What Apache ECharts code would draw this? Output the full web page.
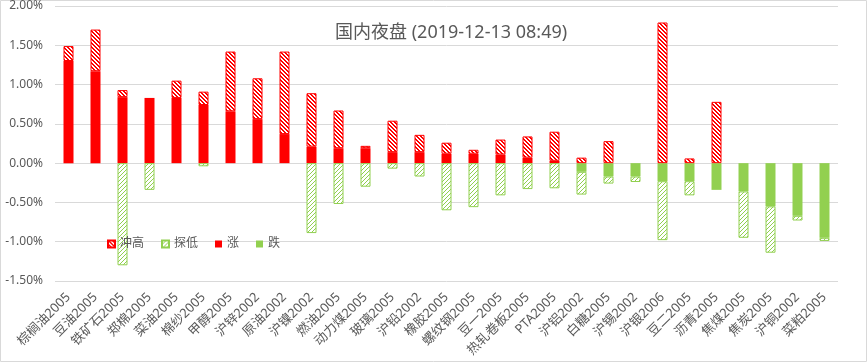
<!DOCTYPE html>
<html><head><meta charset="utf-8">
<script src="https://cdn.jsdelivr.net/npm/echarts@6/dist/echarts.min.js"></script>
<style>html,body{margin:0;padding:0;background:#fff}#c{width:867px;height:362px}</style>
</head><body><div id="c"></div>
<script>
const categories = ['棕榈油2005','豆油2005','铁矿石2005','郑棉2005','菜油2005','棉纱2005','甲醇2005','沪锌2002','原油2002','沪镍2002','燃油2005','动力煤2005','玻璃2005','沪铅2002','橡胶2005','螺纹钢2005','豆一2005','热轧卷板2005','PTA2005','沪铝2002','白糖2005','沪锡2002','沪银2006','豆二2005','沥青2005','焦煤2005','焦炭2005','沪铜2002','菜粕2005'];
// 涨 (close, positive)
const rise = [1.30,1.17,0.84,0.83,0.83,0.74,0.66,0.56,0.37,0.21,0.19,0.19,0.14,0.14,0.12,0.12,0.11,0.07,0.03,null,null,null,null,null,null,null,null,null,null];
// 跌 (close, negative)
const fall = [null,null,null,null,null,null,null,null,null,null,null,null,null,null,null,null,null,null,null,-0.11,-0.17,-0.17,-0.23,-0.23,-0.34,-0.36,-0.55,-0.67,-0.95];
// 冲高 (extra above)
const highExt = [0.19,0.53,0.09,null,0.22,0.17,0.76,0.52,1.05,0.68,0.48,0.03,0.40,0.22,0.14,0.05,0.19,0.27,0.37,0.07,0.28,null,1.79,0.06,0.78,null,null,null,null];
// 探低 (extra below)
const lowExt = [null,null,-1.30,-0.34,null,-0.04,null,null,null,-0.89,-0.52,-0.30,-0.07,-0.17,-0.60,-0.56,-0.41,-0.33,-0.32,-0.29,-0.09,-0.07,-0.75,-0.18,null,-0.59,-0.59,-0.06,-0.04];
const legendNames = ['冲高','探低','涨','跌'];

function makePattern(color, back) {
  const c = document.createElement('canvas'); c.width = 4; c.height = 4;
  const ctx = c.getContext('2d');
  ctx.fillStyle = '#fff'; ctx.fillRect(0,0,4,4);
  ctx.fillStyle = color;
  for (let i = 0; i < 4; i++) {
    if (back) { ctx.fillRect(i, i, 1, 1); ctx.fillRect((i+1)%4, i, 1, 1); }
    else { ctx.fillRect(3 - i, i, 1, 1); }
  }
  return c;
}
const RED = '#ff0000', GREEN = '#92d050';
const redPat = {image: makePattern(RED, true), repeat: 'repeat'};
const greenPat = {image: makePattern(GREEN, false), repeat: 'repeat'};
const FONT = "'Noto Sans', 'Noto Sans CJK SC', sans-serif";

const chart = echarts.init(document.getElementById('c'), null, {renderer: 'canvas'});
chart.setOption({
  animation: false,
  textStyle: {fontFamily: FONT},
  title: {text: '国内夜盘 (2019-12-13 08:49)', left: 330, top: 19,
    textStyle: {fontSize: 18, fontWeight: 'normal', color: '#595959', fontFamily: FONT}},
  graphic: [{type: 'rect', shape: {x: 0.5, y: 0.5, width: 866, height: 361}, style: {fill: 'none', stroke: '#d9d9d9', lineWidth: 1}, silent: true}],
  legend: {data: legendNames, left: 102, top: 233, itemWidth: 7, itemHeight: 7, itemGap: 17, icon: 'rect',
    textStyle: {fontSize: 12, color: '#595959', fontFamily: FONT}},
  grid: {left: 55, right: 29, top: 6, bottom: 81},
  xAxis: {type: 'category', data: categories,
    axisLine: {show: false}, axisTick: {show: false},
    axisLabel: {rotate: 45, interval: 0, margin: 14, fontSize: 13, color: '#595959', fontFamily: FONT}},
  yAxis: {type: 'value', min: -1.5, max: 2.0, interval: 0.5,
    axisLine: {show: false}, axisTick: {show: false},
    splitLine: {lineStyle: {color: '#d9d9d9'}},
    axisLabel: {margin: 12, fontSize: 12, color: '#595959', fontFamily: FONT, formatter: v => v.toFixed(2) + '%'}},
  series: [
    {name: '涨', type: 'bar', stack: 't', data: rise, barWidth: 10, itemStyle: {color: RED}},
    {name: '跌', type: 'bar', stack: 't', data: fall, barWidth: 10, itemStyle: {color: GREEN}},
    {name: '冲高', type: 'bar', stack: 't', data: highExt, barWidth: 10, itemStyle: {color: redPat, borderColor: RED, borderWidth: 1}},
    {name: '探低', type: 'bar', stack: 't', data: lowExt, barWidth: 10, itemStyle: {color: greenPat, borderColor: GREEN, borderWidth: 1}}
  ]
});
</script></body></html>
